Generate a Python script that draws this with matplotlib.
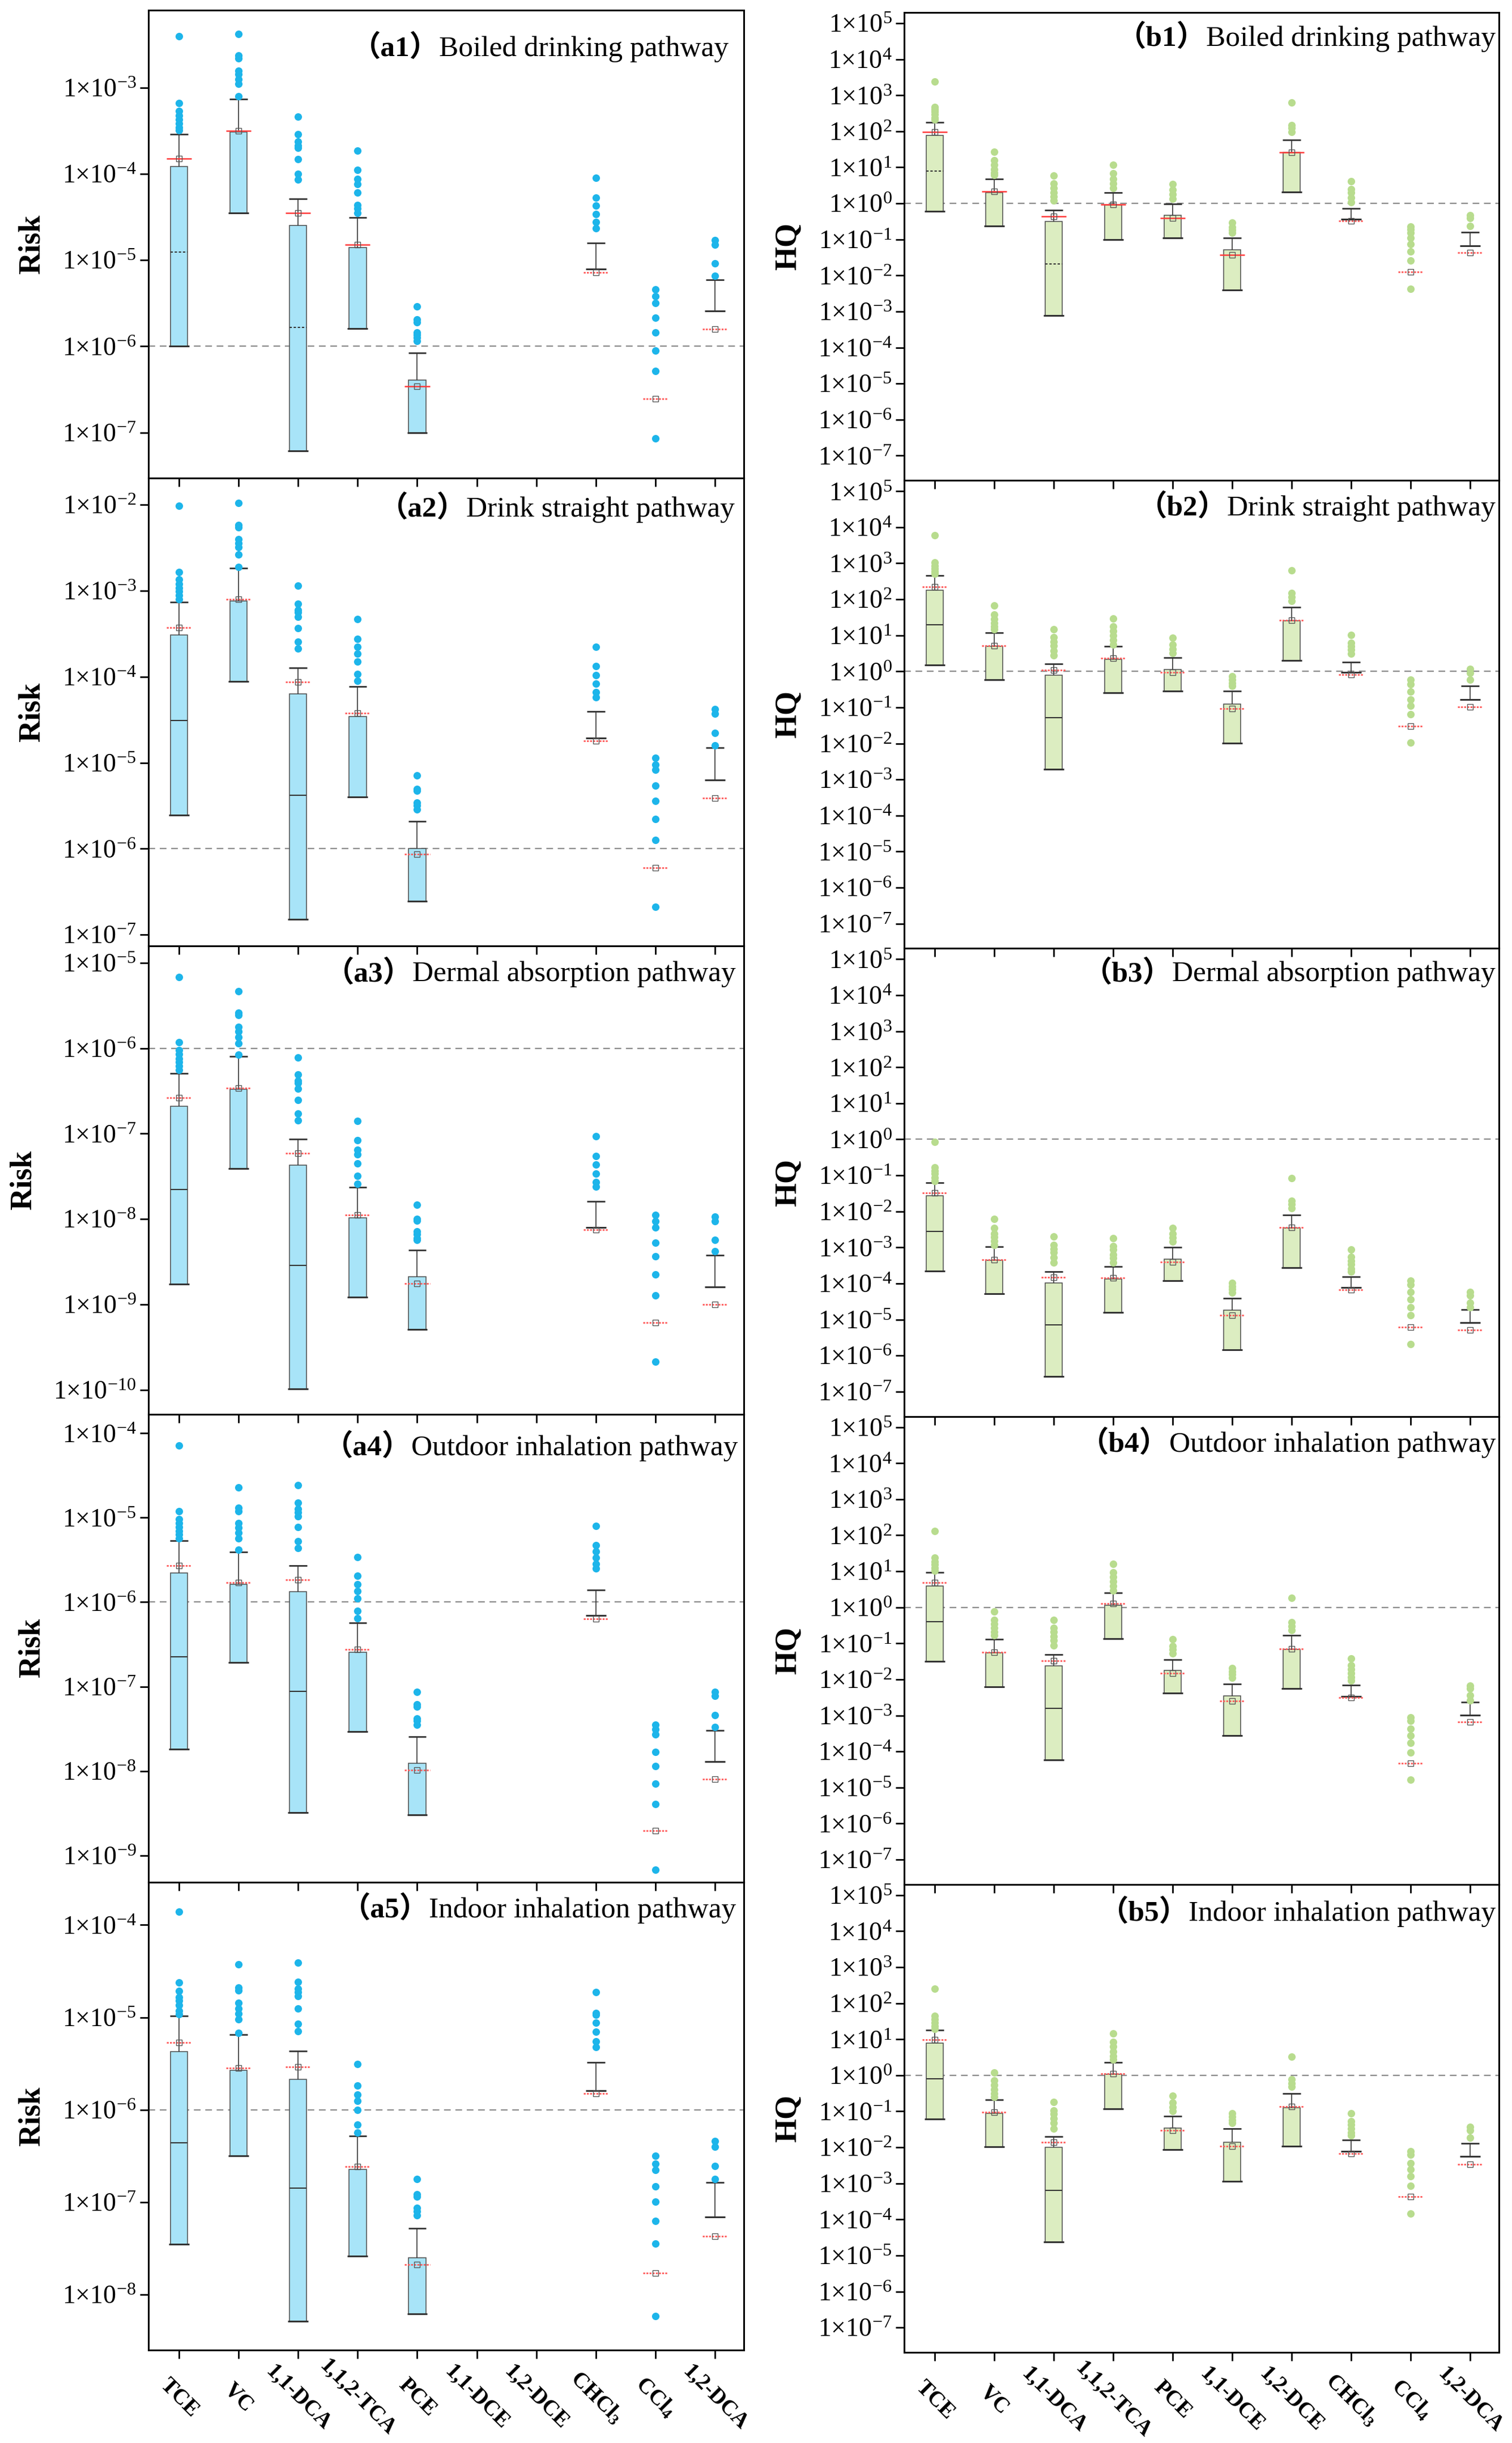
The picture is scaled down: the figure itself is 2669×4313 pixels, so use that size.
import numpy as np
import matplotlib
matplotlib.use('Agg')
import matplotlib.pyplot as plt
from matplotlib.ticker import FixedLocator, FuncFormatter, NullLocator

plt.rcParams['font.family'] = ['Liberation Serif', 'DejaVu Serif']
plt.rcParams['mathtext.fontset'] = 'custom'
plt.rcParams['mathtext.rm'] = 'Liberation Serif'
plt.rcParams['mathtext.it'] = 'Liberation Serif:italic'
plt.rcParams['mathtext.bf'] = 'Liberation Serif:bold'
plt.rcParams['mathtext.default'] = 'regular'

nan = np.nan
categories = ['TCE', 'VC', '1,1-DCA', '1,1,2-TCA', 'PCE', '1,1-DCE', '1,2-DCE',
              'CHCl$_3$', 'CCl$_4$', '1,2-DCA']

# ---------------- a1 Boiled drinking (Risk) ----------------
a1_lo = [1.0e-6, 3.54e-5, 6.1e-8, 1.61e-6, 1.0e-7, nan, nan, 7.9e-6, nan, 2.58e-6]
a1_hi = [1.21e-4, 3.07e-4, 2.53e-5, 1.39e-5, 4.07e-7, nan, nan, 7.9e-6, nan, 2.58e-6]
a1_med = [1.25e-5, nan, 1.67e-6, nan, nan, nan, nan, nan, nan, nan]
a1_mean = [1.5e-4, 3.18e-4, 3.5e-5, 1.5e-5, 3.45e-7, nan, nan, 7.2e-6, 2.45e-7, 1.59e-6]
a1_whis = [2.9e-4, 7.35e-4, 5.14e-5, 3.13e-5, 8.4e-7, nan, nan, 1.59e-5, nan, 5.93e-6]
a1_out = [[3.94e-3, 6.65e-4, 5.36e-4, 4.77e-4, 4.28e-4, 3.85e-4, 3.48e-4, 3.2e-4],
          [4.2e-3, 2.36e-3, 2.2e-3, 1.58e-3, 1.43e-3, 1.26e-3, 1.11e-3, 8.0e-4],
          [4.6e-4, 2.87e-4, 2.39e-4, 2.12e-4, 2.0e-4, 1.48e-4, 1.0e-4, 8.6e-5],
          [1.87e-4, 1.11e-4, 8.7e-5, 7.6e-5, 6.1e-5, 4.35e-5, 4.0e-5, 3.5e-5],
          [2.92e-6, 2.04e-6, 1.9e-6, 1.44e-6, 1.36e-6, 1.26e-6, 1.15e-6],
          [], [],
          [8.97e-5, 5.3e-5, 4.3e-5, 3.4e-5, 2.76e-5, 2.33e-5],
          [4.54e-6, 3.81e-6, 3.2e-6, 2.15e-6, 1.44e-6, 8.97e-7, 5.19e-7, 8.5e-8],
          [1.7e-5, 1.5e-5, 9.1e-6, 6.6e-6]]

# ---------------- a2 Drink straight (Risk) ----------------
a2_lo = [2.45e-6, 8.8e-5, 1.51e-7, 4.02e-6, 2.45e-7, nan, nan, 1.95e-5, nan, 6.34e-6]
a2_hi = [3.05e-4, 7.65e-4, 6.3e-5, 3.44e-5, 1.01e-6, nan, nan, 1.95e-5, nan, 6.34e-6]
a2_med = [3.11e-5, nan, 4.19e-6, nan, nan, nan, nan, nan, nan, nan]
a2_mean = [3.74e-4, 7.96e-4, 8.7e-5, 3.75e-5, 8.6e-7, nan, nan, 1.79e-5, 6.0e-7, 3.89e-6]
a2_whis = [7.35e-4, 1.84e-3, 1.28e-4, 7.74e-5, 2.08e-6, nan, nan, 3.94e-5, nan, 1.49e-5]
a2_out = [[9.8e-3, 1.66e-3, 1.35e-3, 1.2e-3, 1.08e-3, 9.8e-4, 8.9e-4, 8.0e-4],
          [1.05e-2, 5.8e-3, 5.5e-3, 3.98e-3, 3.6e-3, 3.2e-3, 2.63e-3, 1.9e-3],
          [1.15e-3, 7.05e-4, 6.0e-4, 5.6e-4, 5.0e-4, 3.68e-4, 2.55e-4, 2.12e-4],
          [4.66e-4, 2.77e-4, 2.22e-4, 1.85e-4, 1.51e-4, 1.07e-4, 8.9e-5],
          [7.16e-6, 4.97e-6, 4.7e-6, 3.44e-6, 3.2e-6, 2.86e-6],
          [], [],
          [2.24e-4, 1.32e-4, 1.05e-4, 8.3e-5, 6.6e-5, 5.8e-5],
          [1.14e-5, 9.5e-6, 8.3e-6, 5.4e-6, 3.6e-6, 2.2e-6, 1.27e-6, 2.12e-7],
          [4.17e-5, 3.7e-5, 2.23e-5, 1.6e-5]]

# ---------------- a3 Dermal absorption (Risk) ----------------
a3_lo = [1.72e-9, 3.93e-8, 1.03e-10, 1.21e-9, 5.1e-10, nan, nan, 8.0e-9, nan, 1.61e-9]
a3_hi = [2.11e-7, 3.31e-7, 4.27e-8, 1.04e-8, 2.11e-9, nan, nan, 8.0e-9, nan, 1.61e-9]
a3_med = [2.21e-8, nan, 2.85e-9, nan, nan, nan, nan, nan, nan, nan]
a3_mean = [2.63e-7, 3.44e-7, 5.91e-8, 1.12e-8, 1.75e-9, nan, nan, 7.45e-9, 6.17e-10, 1.0e-9]
a3_whis = [5.11e-7, 8.08e-7, 8.7e-8, 2.36e-8, 4.3e-9, nan, nan, 1.62e-8, nan, 3.77e-9]
a3_out = [[6.86e-6, 1.18e-6, 9.45e-7, 8.5e-7, 7.6e-7, 6.9e-7, 6.2e-7, 5.6e-7],
          [4.62e-6, 2.6e-6, 2.46e-6, 1.77e-6, 1.57e-6, 1.35e-6, 1.15e-6, 8.4e-7],
          [7.82e-7, 4.9e-7, 4.16e-7, 3.9e-7, 3.37e-7, 2.48e-7, 1.72e-7, 1.44e-7],
          [1.41e-7, 8.35e-8, 6.5e-8, 5.7e-8, 4.5e-8, 3.2e-8, 2.6e-8],
          [1.47e-8, 1.01e-8, 9.6e-9, 7.14e-9, 6.6e-9, 6.0e-9, 5.7e-9],
          [], [],
          [9.29e-8, 5.46e-8, 4.35e-8, 3.42e-8, 2.7e-8, 2.4e-8],
          [1.12e-8, 9.4e-9, 8.0e-9, 5.27e-9, 3.65e-9, 2.23e-9, 1.28e-9, 2.12e-10],
          [1.06e-8, 9.4e-9, 5.73e-9, 4.2e-9]]

# ---------------- a4 Outdoor inhalation (Risk) ----------------
a4_lo = [1.8e-8, 1.94e-7, 3.21e-9, 2.94e-8, 3.03e-9, nan, nan, 6.9e-7, nan, 1.29e-8]
a4_hi = [2.2e-6, 1.62e-6, 1.34e-6, 2.55e-7, 1.24e-8, nan, nan, 6.9e-7, nan, 1.29e-8]
a4_med = [2.25e-7, nan, 8.83e-8, nan, nan, nan, nan, nan, nan, nan]
a4_mean = [2.72e-6, 1.7e-6, 1.85e-6, 2.75e-7, 1.03e-8, nan, nan, 6.34e-7, 1.95e-9, 8.05e-9]
a4_whis = [5.33e-6, 3.95e-6, 2.7e-6, 5.7e-7, 2.55e-8, nan, nan, 1.39e-6, nan, 3.0e-8]
a4_out = [[7.13e-5, 1.2e-5, 9.6e-6, 8.6e-6, 7.7e-6, 7.0e-6, 6.3e-6, 5.7e-6],
          [2.27e-5, 1.3e-5, 1.2e-5, 8.6e-6, 7.6e-6, 6.6e-6, 5.7e-6, 4.2e-6],
          [2.43e-5, 1.5e-5, 1.27e-5, 1.15e-5, 1.04e-5, 7.7e-6, 5.3e-6, 4.4e-6],
          [3.4e-6, 2.06e-6, 1.62e-6, 1.36e-6, 1.1e-6, 7.9e-7, 6.4e-7],
          [8.69e-8, 6.14e-8, 5.8e-8, 4.19e-8, 3.9e-8, 3.5e-8],
          [], [],
          [7.93e-6, 4.71e-6, 4.0e-6, 3.35e-6, 2.84e-6, 2.5e-6],
          [3.55e-8, 3.1e-8, 2.7e-8, 1.69e-8, 1.14e-8, 7.06e-9, 4.06e-9, 6.7e-10],
          [8.69e-8, 7.7e-8, 4.59e-8, 3.3e-8]]

# ---------------- a5 Indoor inhalation (Risk) ----------------
a5_lo = [3.5e-8, 3.17e-7, 5.15e-9, 2.62e-8, 6.17e-9, nan, nan, 1.6e-6, nan, 6.89e-8]
a5_hi = [4.28e-6, 2.68e-6, 2.12e-6, 2.27e-7, 2.52e-8, nan, nan, 1.6e-6, nan, 6.89e-8]
a5_med = [4.4e-7, nan, 1.42e-7, nan, nan, nan, nan, nan, nan, nan]
a5_mean = [5.32e-6, 2.83e-6, 2.93e-6, 2.44e-7, 2.13e-8, nan, nan, 1.49e-6, 1.7e-8, 4.31e-8]
a5_whis = [1.04e-5, 6.55e-6, 4.32e-6, 5.17e-7, 5.2e-8, nan, nan, 3.27e-6, nan, 1.63e-7]
a5_out = [[1.4e-4, 2.39e-5, 1.92e-5, 1.66e-5, 1.52e-5, 1.36e-5, 1.18e-5, 1.08e-5],
          [3.75e-5, 2.1e-5, 1.96e-5, 1.43e-5, 1.25e-5, 1.1e-5, 9.5e-6, 6.8e-6],
          [3.92e-5, 2.41e-5, 2.03e-5, 1.88e-5, 1.69e-5, 1.24e-5, 8.5e-6, 7.1e-6],
          [3.13e-6, 1.82e-6, 1.46e-6, 1.24e-6, 1.0e-6, 6.9e-7, 5.7e-7],
          [1.78e-7, 1.22e-7, 1.15e-7, 8.63e-8, 8.0e-8, 7.2e-8],
          [], [],
          [1.87e-5, 1.12e-5, 1.06e-5, 8.8e-6, 6.98e-6, 5.5e-6, 4.8e-6],
          [3.17e-7, 2.6e-7, 2.22e-7, 1.49e-7, 1.01e-7, 6.3e-8, 3.56e-8, 5.89e-9],
          [4.6e-7, 4.0e-7, 2.48e-7, 1.78e-7]]

# ---------------- b1 Boiled drinking (HQ) ----------------
b1_lo = [0.6, 0.234, 7.6e-4, 0.0996, 0.11, 3.97e-3, 2.09, 0.363, nan, 0.067]
b1_hi = [76, 1.97, 0.315, 0.887, 0.47, 0.0507, 26.1, 0.363, nan, 0.067]
b1_med = [7.9, nan, 0.0211, nan, nan, nan, nan, nan, nan, nan]
b1_mean = [95, 2.17, 0.443, 0.94, 0.385, 0.0368, 26.1, 0.328, 0.0124, 0.0432]
b1_whis = [179, 4.81, 0.646, 1.97, 0.96, 0.11, 58.9, 0.727, nan, 0.157]
b1_out = [[2430, 466, 410, 350, 295, 240, 210],
          [27.1, 15.9, 11.8, 8.7, 7.2, 6.1],
          [5.87, 3.57, 2.65, 1.97, 1.55, 1.2],
          [11.8, 6.75, 4.8, 3.57, 2.65],
          [3.43, 2.4, 1.78, 1.32],
          [0.297, 0.22, 0.18, 0.154],
          [628, 150, 123, 95],
          [4.19, 2.5, 1.97, 1.46, 1.08],
          [0.23, 0.19, 0.154, 0.11, 0.074, 0.047, 0.0258, 0.0043],
          [0.47, 0.385, 0.24]]

# ---------------- b2 Drink straight (HQ) ----------------
b2_lo = [1.49, 0.586, 1.9e-3, 0.254, 0.28, 0.0101, 2.03, 0.934, nan, 0.166]
b2_hi = [181, 4.97, 0.785, 2.2, 1.13, 0.124, 25.4, 0.934, nan, 0.166]
b2_med = [19.7, nan, 0.0516, nan, nan, nan, nan, nan, nan, nan]
b2_mean = [224, 5.17, 1.09, 2.33, 0.95, 0.0925, 26.4, 0.815, 0.0306, 0.102]
b2_whis = [459, 11.9, 1.64, 4.97, 2.42, 0.28, 59.7, 1.81, nan, 0.39]
b2_out = [[5970, 1040, 850, 700, 600, 510],
          [68.4, 38.2, 28.7, 22, 17.6, 14.5],
          [14.5, 8.9, 6.66, 5.17, 3.7, 2.77],
          [29.7, 17.6, 13.1, 9.8, 7.3, 5.5],
          [8.56, 5.5, 4.1, 3.24],
          [0.74, 0.585, 0.465, 0.4],
          [640, 149, 116, 90.6],
          [10.4, 6.26, 4.97, 3.93, 3.06],
          [0.586, 0.44, 0.27, 0.166, 0.113, 0.0652, 0.0105],
          [1.16, 0.9, 0.586]]

# ---------------- b3 Dermal absorption (HQ) ----------------
b3_lo = [2.2e-4, 5.2e-5, 2.64e-7, 1.56e-5, 1.18e-4, 1.43e-6, 2.72e-4, 7.69e-5, nan, 8.24e-6]
b3_hi = [0.0272, 4.42e-4, 1.03e-4, 1.32e-4, 4.69e-4, 1.79e-5, 3.4e-3, 7.69e-5, nan, 8.24e-6]
b3_med = [2.8e-3, nan, 7.2e-6, nan, nan, nan, nan, nan, nan, nan]
b3_mean = [0.033, 4.6e-4, 1.46e-4, 1.43e-4, 4.0e-4, 1.29e-5, 3.54e-3, 6.7e-5, 6.15e-6, 5.16e-6]
b3_whis = [0.0627, 1.06e-3, 2.15e-4, 3.0e-4, 1.0e-3, 3.9e-5, 7.85e-3, 1.52e-4, nan, 1.9e-5]
b3_out = [[0.865, 0.166, 0.136, 0.112, 0.087, 0.069],
          [6.1e-3, 3.4e-3, 2.45e-3, 1.91e-3, 1.48e-3, 1.17e-3],
          [2.01e-3, 1.17e-3, 9.2e-4, 7.2e-4, 5.3e-4, 3.8e-4],
          [1.83e-3, 1.1e-3, 8.7e-4, 6.4e-4, 5.0e-4, 3.8e-4],
          [3.4e-3, 2.4e-3, 1.9e-3, 1.47e-3],
          [1.03e-4, 8.4e-5, 6.9e-5, 5.6e-5],
          [0.084, 0.0195, 0.016, 0.0125],
          [8.7e-4, 5.4e-4, 4.3e-4, 3.4e-4, 2.6e-4, 2.1e-4],
          [1.18e-4, 9.3e-5, 5.7e-5, 3.6e-5, 2.2e-5, 1.29e-5, 2.1e-6],
          [5.7e-5, 4.6e-5, 2.9e-5, 2.2e-5]]

# ---------------- b4 Outdoor inhalation (HQ) ----------------
b4_lo = [0.0318, 6.2e-3, 5.74e-5, 0.136, 4.2e-3, 2.77e-4, 5.53e-3, 3.4e-3, nan, 1.02e-3]
b4_hi = [3.94, 0.0547, 0.0238, 1.16, 0.0181, 3.47e-3, 0.069, 3.4e-3, nan, 1.02e-3]
b4_med = [0.405, nan, 1.6e-3, nan, nan, nan, nan, nan, nan, nan]
b4_mean = [4.78, 0.0569, 0.033, 1.27, 0.0146, 2.54e-3, 0.0705, 3.09e-3, 4.73e-5, 6.5e-4]
b4_whis = [9.44, 0.131, 0.0497, 2.57, 0.0357, 7.55e-3, 0.166, 6.86e-3, nan, 2.35e-3]
b4_out = [[130, 23.5, 18.6, 15.3, 12.6, 10.4],
          [0.755, 0.447, 0.35, 0.27, 0.21, 0.17],
          [0.447, 0.27, 0.21, 0.158, 0.12, 0.089],
          [16.0, 9.44, 7.0, 5.3, 3.9, 2.9],
          [0.131, 0.084, 0.067, 0.053],
          [0.0207, 0.0165, 0.0136, 0.011],
          [1.81, 0.382, 0.302, 0.236],
          [0.0386, 0.0242, 0.019, 0.0148, 0.0117, 9.2e-3],
          [8.9e-4, 7.0e-4, 4.25e-4, 2.77e-4, 1.7e-4, 9.5e-5, 1.63e-5],
          [6.7e-3, 5.5e-3, 3.6e-3, 2.65e-3]]

# ---------------- b5 Indoor inhalation (HQ) ----------------
b5_lo = [0.0621, 0.0104, 2.39e-5, 0.119, 8.65e-3, 1.15e-3, 0.0109, 7.88e-3, nan, 5.57e-3]
b5_hi = [7.74, 0.088, 9.95e-3, 1.08, 0.0348, 0.0141, 0.128, 7.88e-3, nan, 5.57e-3]
b5_med = [0.797, nan, 6.44e-4, nan, nan, nan, nan, nan, nan, nan]
b5_mean = [9.78, 0.0944, 0.0141, 1.13, 0.0296, 0.0109, 0.134, 6.86e-3, 4.24e-4, 3.43e-3]
b5_whis = [18.3, 0.212, 0.02, 2.32, 0.0748, 0.0333, 0.308, 0.0158, nan, 0.0131]
b5_out = [[251, 44.2, 36.5, 29.0, 23.0, 19.5],
          [1.21, 0.71, 0.54, 0.41, 0.315, 0.256],
          [0.181, 0.106, 0.084, 0.064, 0.047, 0.033],
          [14.5, 8.3, 6.2, 4.6, 3.45, 2.75],
          [0.268, 0.176, 0.133, 0.1],
          [0.088, 0.07, 0.058, 0.047],
          [3.28, 0.762, 0.6, 0.48],
          [0.088, 0.0528, 0.042, 0.033, 0.026, 0.0218],
          [7.88e-3, 6.3e-3, 3.68e-3, 2.49e-3, 1.57e-3, 8.5e-4, 1.43e-4],
          [0.0373, 0.0296, 0.0187]]

a_tags = ['a1', 'a2', 'a3', 'a4', 'a5']
b_tags = ['b1', 'b2', 'b3', 'b4', 'b5']
pathways = ['Boiled drinking pathway', 'Drink straight pathway', 'Dermal absorption pathway',
            'Outdoor inhalation pathway', 'Indoor inhalation pathway']
a_ylims = [(-7.53, -2.10), (-7.134, -1.69), (-10.285, -4.804), (-9.317, -3.773), (-8.6, -3.537)]
b_ylims = [(-7.69, 5.30)] * 5
risk_threshold = 1e-6
hq_threshold = 1.0

# ---------------- styling / layout ----------------
W, H = 2669, 4313
fig = plt.figure(figsize=(W / 100, H / 100), dpi=100)
BLUE_FILL, BLUE_DOT = '#A8E4F8', '#1DB5EA'
GREEN_FILL, GREEN_DOT = '#DCEDC1', '#B8DC8E'
DARK = '#333333'
PANEL_H = 826.2


def axes_at(x0, top, x1, bottom):
    return fig.add_axes([x0 / W, 1 - bottom / H, (x1 - x0) / W, (bottom - top) / H])


def draw_panel(ax, lo, hi, med, mean, whis, outs, ylim, thr, fill, dot, first):
    x = np.arange(1, len(categories) + 1)
    lo, hi, med, mean, whis = [np.array(v, dtype=float) for v in (lo, hi, med, mean, whis)]
    has_box = ~np.isnan(lo) & (hi > lo)
    ax.bar(x[has_box], (hi - lo)[has_box], bottom=lo[has_box], width=0.29,
           color=fill, edgecolor='#4a4a4a', linewidth=1.1, zorder=2)
    ok = ~np.isnan(lo)
    ax.hlines(lo[ok], x[ok] - 0.17, x[ok] + 0.17, color=DARK, lw=2.2, zorder=3)
    okw = ~np.isnan(whis)
    ax.vlines(x[okw], hi[okw], whis[okw], color=DARK, lw=1.2, zorder=3)
    ax.hlines(whis[okw], x[okw] - 0.15, x[okw] + 0.15, color=DARK, lw=2.0, zorder=3)
    okm = ~np.isnan(med)
    ax.hlines(med[okm], x[okm] - 0.145, x[okm] + 0.145, color=DARK, lw=1.5,
              linestyles=(0, (2, 1.5)) if first else '-', zorder=3)
    for i in range(len(x)):
        if np.isnan(mean[i]):
            continue
        solid = first and has_box[i]
        ax.hlines(mean[i], x[i] - 0.21, x[i] + 0.21, color='#FF3A3A' if solid else '#FF5A5A',
                  lw=1.8 if solid else 2.0,
                  linestyles='-' if solid else (0, (1.2, 0.8)), zorder=4)
    ax.plot(x, mean, linestyle='none', marker='s', ms=6.5, mfc='none', mec='#555555', mew=1.0, zorder=5)
    for i, o in enumerate(outs):
        if len(o):
            ax.plot(np.full(len(o), x[i]), o, linestyle='none', marker='o', ms=9.5,
                    color=dot, mec='none', zorder=4)
    ax.axhline(thr, color='#8E8E8E', lw=1.7, dashes=(5, 3.5), zorder=1)
    ax.set_yscale('log')
    ax.set_ylim(10 ** ylim[0], 10 ** ylim[1])
    ax.set_xlim(0.486, 10.485)
    decs = list(range(int(np.ceil(ylim[0])), int(np.floor(ylim[1])) + 1))
    ax.yaxis.set_major_locator(FixedLocator([10.0 ** k for k in decs]))
    ax.yaxis.set_minor_locator(NullLocator())
    ax.yaxis.set_major_formatter(FuncFormatter(
        lambda v, p: '1×10$^{%d}$' % int(round(np.log10(v)))))
    ax.set_xticks(x)
    ax.tick_params(axis='both', direction='out', length=10.5, width=2.0, labelsize=33, color='black')
    ax.tick_params(axis='y', pad=5)
    ax.set_facecolor('none')
    for s in ax.spines.values():
        s.set_linewidth(2.2)
        s.set_color('black')


def add_title(ax, tag, name, right_off, base_off):
    bb = ax.get_position()
    xr = bb.x1 - right_off / W
    y = bb.y1 - base_off / H
    t = fig.text(xr, y, name, fontsize=37, family='Liberation Serif', ha='right', va='baseline')
    r = fig.canvas.get_renderer()
    e = t.get_window_extent(r)
    fig.text(e.x0 / W, y, '（' + tag + '）', fontsize=37, family=['Liberation Serif', 'Noto Sans CJK SC'],
             fontweight='bold', ha='right', va='baseline')


a_data = [(a1_lo, a1_hi, a1_med, a1_mean, a1_whis, a1_out),
          (a2_lo, a2_hi, a2_med, a2_mean, a2_whis, a2_out),
          (a3_lo, a3_hi, a3_med, a3_mean, a3_whis, a3_out),
          (a4_lo, a4_hi, a4_med, a4_mean, a4_whis, a4_out),
          (a5_lo, a5_hi, a5_med, a5_mean, a5_whis, a5_out)]
b_data = [(b1_lo, b1_hi, b1_med, b1_mean, b1_whis, b1_out),
          (b2_lo, b2_hi, b2_med, b2_mean, b2_whis, b2_out),
          (b3_lo, b3_hi, b3_med, b3_mean, b3_whis, b3_out),
          (b4_lo, b4_hi, b4_med, b4_mean, b4_whis, b4_out),
          (b5_lo, b5_hi, b5_med, b5_mean, b5_whis, b5_out)]
a_base = [81, 68, 62, 72, 62]
b_base = [59, 62, 58, 62, 64]
a_right = [27, 16, 14, 10, 14]

for k in range(5):
    axa = axes_at(262, 18 + k * PANEL_H, 1313, 18 + (k + 1) * PANEL_H)
    draw_panel(axa, *a_data[k], a_ylims[k], risk_threshold, BLUE_FILL, BLUE_DOT, k == 0)
    axa.set_ylabel('Risk', fontsize=39, fontweight='bold', labelpad=20)
    axb = axes_at(1596, 22 + k * PANEL_H, 2646, 22 + (k + 1) * PANEL_H)
    draw_panel(axb, *b_data[k], b_ylims[k], hq_threshold, GREEN_FILL, GREEN_DOT, k == 0)
    axb.set_ylabel('HQ', fontsize=39, fontweight='bold', labelpad=20)
    for ax in (axa, axb):
        if k < 4:
            ax.set_xticklabels([])
        else:
            ax.set_xticklabels(categories, fontsize=28, fontweight='bold', rotation=-45,
                               ha='center', va='center', rotation_mode='default')
            ax.tick_params(axis='x', pad=50)
    add_title(axa, a_tags[k], pathways[k], a_right[k], a_base[k])
    add_title(axb, b_tags[k], pathways[k], 6, b_base[k])

fig.savefig('out.png', dpi=100, facecolor='white')
